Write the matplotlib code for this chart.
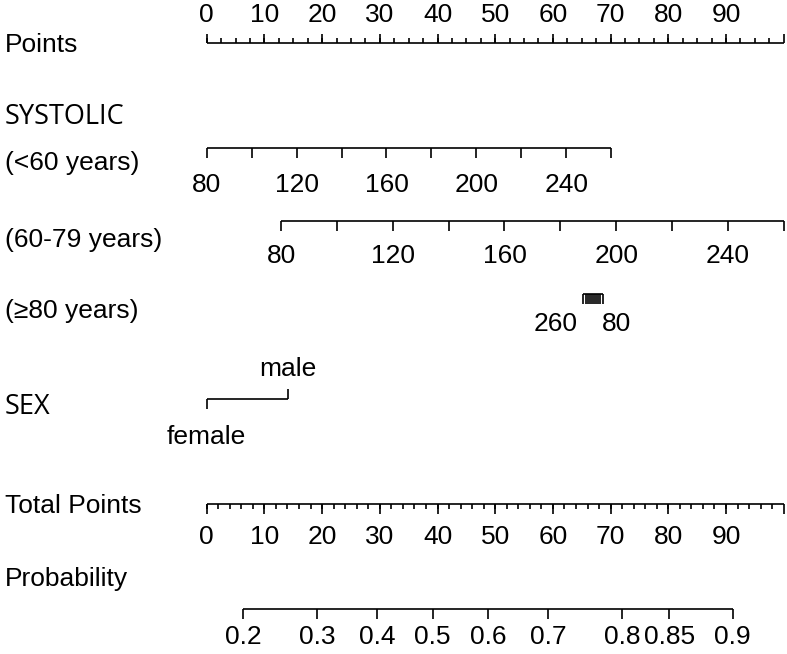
import matplotlib.pyplot as plt
import matplotlib.transforms as mtransforms
import numpy as np

plt.rcParams['font.family'] = ['Liberation Sans', 'DejaVu Sans']

# nomogram scales
point_labels = [0, 10, 20, 30, 40, 50, 60, 70, 80, 90]
sbp_ticks = [80, 100, 120, 140, 160, 180, 200, 220, 240, 260]
sbp_labels = [80, 120, 160, 200, 240]
# points given to SBP = 80 and SBP = 260 in each age group
sbp_pts_lt60 = (0.0, 70.1)
sbp_pts_60_79 = (12.9, 100.0)
sbp_pts_ge80 = (68.6, 65.3)
sex_levels = ['female', 'male']
sex_pts = [0.0, 14.1]
total_labels = [0, 10, 20, 30, 40, 50, 60, 70, 80, 90]
prob_ticks = [0.2, 0.3, 0.4, 0.5, 0.6, 0.7, 0.8, 0.85, 0.9]
prob_labels = ['0.2', '0.3', '0.4', '0.5', '0.6', '0.7', '0.8', '0.85', '0.9']
lp_intercept = -1.654
lp_slope = 0.04225

W, H = 787, 654
px_per_pt = 5.77
x0_px = 206.7

fig = plt.figure(figsize=(W / 100, H / 100), dpi=100)
ax = fig.add_axes([0, 0, 1, 1])
ax.set_xlim(-x0_px / px_per_pt, (W - x0_px) / px_per_pt)
ax.set_ylim(H, 0)
ax.axis('off')

FS = 19
LW = 1.2
left = mtransforms.blended_transform_factory(fig.transFigure, ax.transData)


def sbp_to_pts(v, rng):
    v = np.asarray(v, dtype=float)
    return rng[0] + (v - 80) / 180 * (rng[1] - rng[0])


def tick_marks(xs, y, length):
    for x in xs:
        ax.plot([x, x], [y, y + length], color='black', lw=LW, solid_capstyle='butt')


def hline(xa, xb, y):
    ax.plot([xa, xb], [y, y], color='black', lw=LW, solid_capstyle='butt')


# row labels
row_names = ['Points', '(<60 years)', '(60-79 years)', '(≥80 years)', 'Total Points', 'Probability']
row_y = [45, 163, 240, 311, 506, 579]
for name, y in zip(row_names, row_y):
    ax.text(0.006, y, name, transform=left, fontsize=FS, va='center', ha='left')
for name, y in zip(['SYSTOLIC', 'SEX'], [117, 407]):
    ax.text(0.006, y, name, transform=left, fontsize=19.5, va='center', ha='left',
            family='Open Sans')

# Points
y = 43
hline(0, 100, y)
tick_marks(np.arange(0, 101, 10), y, -9)
tick_marks(np.arange(0, 100, 2.5), y, -5)
for v in point_labels:
    ax.text(v, 15, str(v), fontsize=FS, ha='center', va='center')

# SYSTOLIC <60
y = 148
xs = sbp_to_pts(sbp_ticks, sbp_pts_lt60)
hline(xs.min(), xs.max(), y)
tick_marks(xs, y, 10)
for v in sbp_labels:
    ax.text(sbp_to_pts(v, sbp_pts_lt60), 185, str(v), fontsize=FS, ha='center', va='center')

# SYSTOLIC 60-79
y = 221
xs = sbp_to_pts(sbp_ticks, sbp_pts_60_79)
hline(xs.min(), xs.max(), y)
tick_marks(xs, y, 10)
for v in sbp_labels:
    ax.text(sbp_to_pts(v, sbp_pts_60_79), 256, str(v), fontsize=FS, ha='center', va='center')

# SYSTOLIC >=80
y = 294
xs = sbp_to_pts(sbp_ticks, sbp_pts_ge80)
hline(xs.min(), xs.max(), y)
tick_marks(xs, y, 10)
ax.annotate('260', (sbp_to_pts(260, sbp_pts_ge80), 324), xytext=(-6, 0),
            textcoords='offset pixels', fontsize=FS, ha='right', va='center')
ax.annotate('80', (sbp_to_pts(80, sbp_pts_ge80), 324), xytext=(-1, 0),
            textcoords='offset pixels', fontsize=FS, ha='left', va='center')

# SEX
y = 399
hline(sex_pts[0], sex_pts[1], y)
tick_marks([sex_pts[0]], y, 10)
tick_marks([sex_pts[1]], y, -10)
ax.text(sex_pts[1], 369, sex_levels[1], fontsize=FS, ha='center', va='center')
ax.text(sex_pts[0], 437, sex_levels[0], fontsize=FS, ha='center', va='center')

# Total Points
y = 504
hline(0, 100, y)
tick_marks(np.arange(0, 101, 10), y, 10)
tick_marks(np.arange(0, 100, 2), y, 5)
for v in total_labels:
    ax.text(v, 537, str(v), fontsize=FS, ha='center', va='center')

# Probability
y = 609
p = np.array(prob_ticks)
xs = (np.log(p / (1 - p)) - lp_intercept) / lp_slope
hline(xs.min(), xs.max(), y)
tick_marks(xs, y, 10)
for x, lab in zip(xs, prob_labels):
    ax.text(x, 637, lab, fontsize=FS, ha='center', va='center')

plt.savefig('out.png', dpi=100)
